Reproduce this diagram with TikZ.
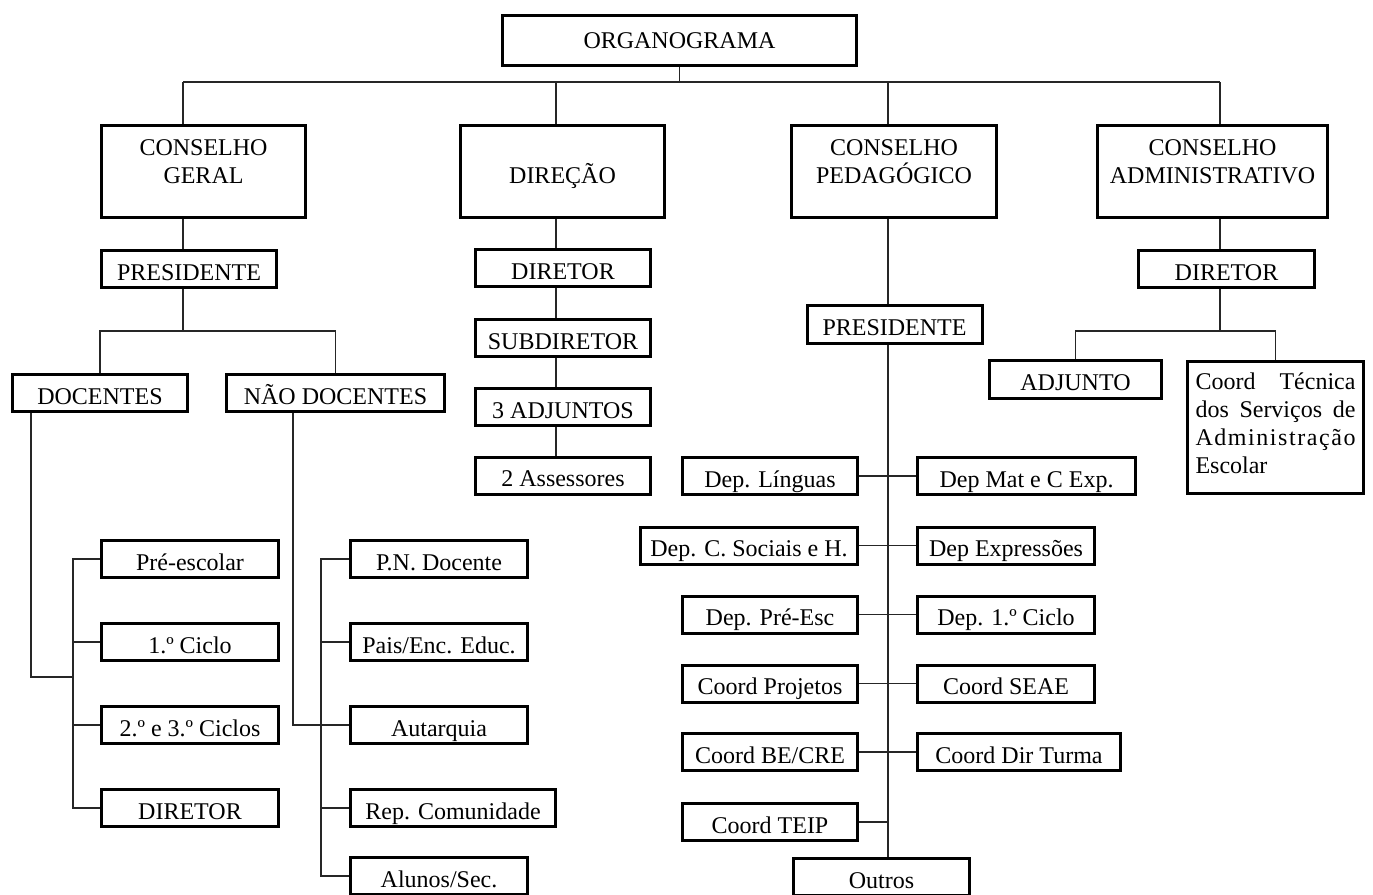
\documentclass[tikz,border=0pt]{standalone}
\usepackage{fontspec}
\setmainfont{Liberation Serif}
\tikzset{box/.style={draw, line width=3pt, fill=white, inner sep=0pt, align=center, font=\fontsize{24}{28}\selectfont},
  bigbox/.style={box, minimum height=92pt},
  smallbox/.style={box, minimum width=175pt, minimum height=37pt, text height=24pt, text depth=2pt},
  link/.style={line width=1.4pt, black!85}}
\newcommand{\spreadline}[1]{\makebox[160pt][s]{#1}}

\begin{document}
\begin{tikzpicture}[x=1pt, y=-1pt]
  \useasboundingbox (0,0) rectangle (1373,894);
  \clip (0,0) rectangle (1373,894);
  % top level
  \node(org) [box, minimum width=354pt, minimum height=50pt] at (679.5, 40.5){ORGANOGRAMA};
  \node(cg) [bigbox, minimum width=204pt] at (203.5, 171.5){\rule{0pt}{20pt}CONSELHO\\GERAL\rule[-25pt]{0pt}{25pt}};
  \node(dirc) [bigbox, minimum width=204pt] at (562.5, 171.5){\rule{0pt}{30pt}DIREÇÃO\rule[-7pt]{0pt}{7pt}};
  \node(ped) [bigbox, minimum width=205pt] at (894, 171.5){\rule{0pt}{20pt}CONSELHO\\PEDAGÓGICO\rule[-25pt]{0pt}{25pt}};
  \node(adm) [bigbox, minimum width=230pt] at (1212.5, 171.5){\rule{0pt}{20pt}CONSELHO\\ADMINISTRATIVO\rule[-25pt]{0pt}{25pt}};
  \coordinate(xcg) at (183, 82);
  \coordinate(xdir) at (556, 82);
  \coordinate(xped) at (888, 82);
  \coordinate(xadm) at (1220, 82);
  % conselho geral
  \node(pcg) [smallbox] at (189, 269){PRESIDENTE};
  \node(doc) [smallbox] at (100, 393){DOCENTES};
  \node(nd) [smallbox, minimum width=218pt] at (335.5, 393){NÃO DOCENTES};
  \coordinate(cgbus) at (183, 331);
  \node(d1) [smallbox, minimum width=177pt] at (190, 559){Pré-escolar};
  \node(d2) [smallbox, minimum width=177pt] at (190, 642){1.º Ciclo};
  \node(d3) [smallbox, minimum width=177pt] at (190, 725){2.º e 3.º Ciclos};
  \node(d4) [smallbox, minimum width=177pt] at (190, 808){DIRETOR};
  \coordinate(dj) at (31, 677);
  \coordinate(dt) at (73, 677);
  \node(n1) [smallbox, minimum width=177pt] at (439, 559){P.N. Docente};
  \node(n2) [smallbox, minimum width=177pt] at (439, 642){Pais/Enc. Educ.};
  \node(n3) [smallbox, minimum width=177pt] at (439, 725){Autarquia};
  \node(n4) [smallbox, minimum width=205pt] at (453, 808){Rep. Comunidade};
  \node(n5) [smallbox, minimum width=177pt] at (439, 876){Alunos/Sec.};
  \coordinate(nj) at (293, 725);
  \coordinate(nt) at (321, 725);
  % direcao
  \node(dd1) [smallbox] at (563, 268){DIRETOR};
  \node(dd2) [smallbox] at (563, 338){SUBDIRETOR};
  \node(dd3) [smallbox] at (563, 407){3 ADJUNTOS};
  \node(dd4) [smallbox] at (563, 475.5){2 Assessores};
  % conselho pedagogico
  \node(pp) [smallbox, minimum height=38pt] at (894.5, 324.5){PRESIDENTE};
  \node(l1) [smallbox] at (770, 476){Dep. Línguas};
  \node(l2) [smallbox, minimum width=217pt] at (749, 545.5){Dep. C. Sociais e H.};
  \node(l3) [smallbox] at (770, 614.5){Dep. Pré-Esc};
  \node(l4) [smallbox] at (770, 683.5){Coord Projetos};
  \node(l5) [smallbox] at (770, 752){Coord BE/CRE};
  \node(l6) [smallbox] at (770, 822){Coord TEIP};
  \node(r1) [smallbox, minimum width=218pt] at (1026.5, 476){Dep Mat e C Exp.};
  \node(r2) [smallbox, minimum width=177pt] at (1006, 545.5){Dep Expressões};
  \node(r3) [smallbox, minimum width=177pt] at (1006, 614.5){Dep. 1.º Ciclo};
  \node(r4) [smallbox, minimum width=177pt] at (1006, 683.5){Coord SEAE};
  \node(r5) [smallbox, minimum width=203pt] at (1019, 752){Coord Dir Turma};
  \node(outros) [smallbox, minimum width=176pt] at (881.5, 877){Outros};
  % conselho administrativo
  \node(ad) [smallbox, minimum width=176pt] at (1226.5, 269){DIRETOR};
  \node(aj) [smallbox, minimum width=172pt, minimum height=38pt] at (1075.5, 379.5){ADJUNTO};
  \node(ct) [box, minimum width=176pt, minimum height=132pt, align=left] at (1275.5, 427.5){\spreadline{Coord Técnica}\\\spreadline{dos Serviços de}\\\makebox[160pt][s]{A\hfil d\hfil m\hfil i\hfil n\hfil i\hfil s\hfil t\hfil r\hfil a\hfil ç\hfil ã\hfil o}\\Escolar\rule[-8pt]{0pt}{8pt}};
  \coordinate(abus) at (1220, 331);
  % connectors
  \draw[link] (org) -- (org |- xcg);
  \draw[link] (xcg) -- (xadm);
  \foreach \c/\n in {xcg/cg, xdir/dirc, xped/ped, xadm/adm}
    \draw[link] (\c) -- (\c |- \n.north);
  \draw[link] (xcg |- cg.south) -- (xcg |- pcg.north);
  \draw[link] (xcg |- pcg.south) -- (cgbus);
  \draw[link] (doc.north) |- (cgbus) -| (nd.north);
  \draw[link] (dj |- doc.south) -- (dj) -- (dt);
  \draw[link] (d1.west) -| (dt) |- (d4.west);
  \draw[link] (d2.west) -- (d2.west -| dt);
  \draw[link] (d3.west) -- (d3.west -| dt);
  \draw[link] (nj |- nd.south) -- (nj) -- (n3.west);
  \draw[link] (n1.west) -| (nt) |- (n5.west);
  \draw[link] (n2.west) -- (n2.west -| nt);
  \draw[link] (n4.west) -- (n4.west -| nt);
  \draw[link] (xdir |- dirc.south) -- (xdir |- dd1.north);
  \draw[link] (xdir |- dd1.south) -- (xdir |- dd2.north);
  \draw[link] (xdir |- dd2.south) -- (xdir |- dd3.north);
  \draw[link] (xdir |- dd3.south) -- (xdir |- dd4.north);
  \draw[link] (xped |- ped.south) -- (xped |- pp.north);
  \draw[link] (xped |- pp.south) -- (xped |- outros.north);
  \draw[link] (l1.east) -- (r1.west);
  \draw[link] (l2.east) -- (r2.west);
  \draw[link] (l3.east) -- (r3.west);
  \draw[link] (l4.east) -- (r4.west);
  \draw[link] (l5.east) -- (r5.west);
  \draw[link] (l6.east) -- (l6.east -| xped);
  \draw[link] (xadm |- adm.south) -- (xadm |- ad.north);
  \draw[link] (xadm |- ad.south) -- (abus);
  \draw[link] (aj.north) |- (abus) -| (ct.north);
\end{tikzpicture}
\end{document}
